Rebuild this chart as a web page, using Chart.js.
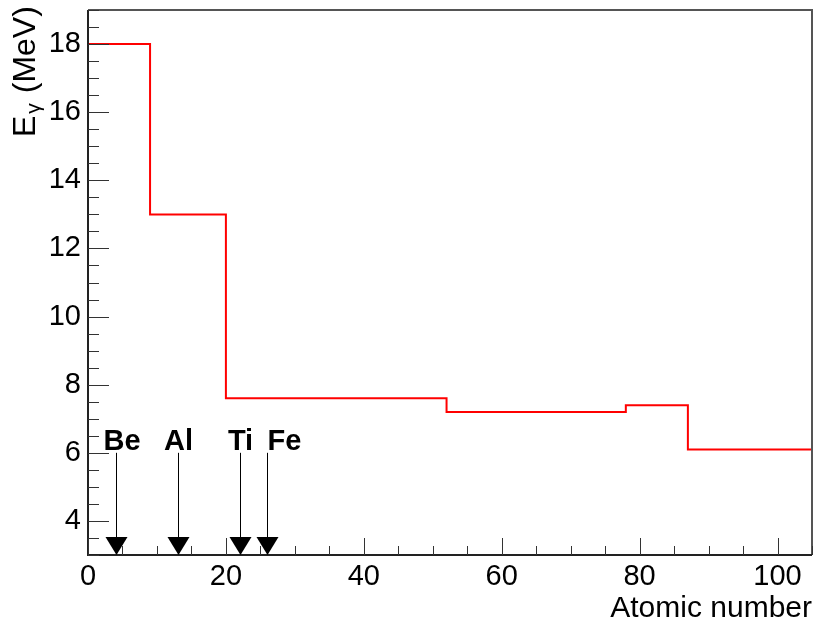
<!DOCTYPE html>
<html>
<head>
<meta charset="utf-8">
<script src="https://cdn.jsdelivr.net/npm/chart.js@4/dist/chart.umd.min.js"></script>
<style>
  html, body { margin: 0; padding: 0; background: #fff; }
  canvas { display: block; }
</style>
</head>
<body>
<canvas id="chart" width="814" height="627"></canvas>
<script>
// Bin edges (atomic number) and photon energy per bin
const binEdges = [0, 9, 20, 52, 78, 87, 105];
const energies = [18, 13, 7.6, 7.2, 7.4, 6.1];

// Target materials marked with arrows
const elements = ['Be', 'Al', 'Ti', 'Fe'];
const elementZ = [4, 13, 22, 26];
const arrowTop = 6;

// Tick labels
const xTicks = [0, 20, 40, 60, 80, 100];
const yTicks = [4, 6, 8, 10, 12, 14, 16, 18];

const FONT = '"Liberation Sans", Arial, Helvetica, sans-serif';

// Build stepped points: every bin start plus the last edge
const points = binEdges.map(function(x, i) {
    return { x: x, y: energies[Math.min(i, energies.length - 1)] };
});

// Draw ROOT-like frame, inner ticks, y title and element arrows
const rootStyle = {
    id: 'rootStyle',
    afterDatasetsDraw: function(chart) {
        const ctx = chart.ctx;
        const xs = chart.scales.x;
        const ys = chart.scales.y;
        const a = chart.chartArea;
        ctx.save();

        // frame
        ctx.strokeStyle = '#555';
        ctx.lineWidth = 2;
        ctx.beginPath();
        ctx.moveTo(a.left, a.top);
        ctx.lineTo(a.right, a.top);
        ctx.lineTo(a.right, a.bottom);
        ctx.stroke();
        ctx.strokeStyle = '#222';
        ctx.beginPath();
        ctx.moveTo(a.left, a.top);
        ctx.lineTo(a.left, a.bottom);
        ctx.lineTo(a.right, a.bottom);
        ctx.stroke();

        // y ticks every 0.5, major every 2
        ctx.lineWidth = 1;
        ctx.strokeStyle = '#333';
        for (let v = 3; v <= 19.001; v += 0.5) {
            const py = Math.round(ys.getPixelForValue(v)) + 0.5;
            const len = (Math.abs(v % 2) < 1e-6) ? 21 : 11;
            ctx.beginPath();
            ctx.moveTo(a.left, py);
            ctx.lineTo(a.left + len, py);
            ctx.stroke();
        }
        // x ticks every 5, major every 20
        for (let v = 0; v <= 105; v += 5) {
            const px = Math.round(xs.getPixelForValue(v)) + 0.5;
            const len = (v % 20 === 0) ? 17 : 9;
            ctx.beginPath();
            ctx.moveTo(px, a.bottom);
            ctx.lineTo(px, a.bottom - len);
            ctx.stroke();
        }

        // element arrows
        const yTop = ys.getPixelForValue(arrowTop);
        const yBot = ys.getPixelForValue(3);
        ctx.fillStyle = '#000';
        ctx.strokeStyle = '#000';
        ctx.font = 'bold 29px ' + FONT;
        ctx.textBaseline = 'alphabetic';
        elements.forEach(function(name, i) {
            const px = Math.round(xs.getPixelForValue(elementZ[i])) + 0.5;
            ctx.beginPath();
            ctx.moveTo(px, yTop);
            ctx.lineTo(px, yBot - 17);
            ctx.stroke();
            ctx.beginPath();
            ctx.moveTo(px - 11, yBot - 18);
            ctx.lineTo(px + 11, yBot - 18);
            ctx.lineTo(px, yBot);
            ctx.closePath();
            ctx.fill();
            if (name === 'Fe') {
                ctx.textAlign = 'left';
                ctx.fillText(name, px, yTop - 3);
            } else if (name === 'Be') {
                ctx.textAlign = 'left';
                ctx.fillText(name, px - 13, yTop - 3);
            } else {
                ctx.textAlign = 'center';
                ctx.fillText(name, px, yTop - 3);
            }
        });

        // y axis title: E_gamma (MeV)
        ctx.translate(35, 137);
        ctx.rotate(-Math.PI / 2);
        ctx.textAlign = 'left';
        ctx.font = '32px ' + FONT;
        ctx.fillText('E', 0, 0);
        let off = ctx.measureText('E').width;
        ctx.font = '21px ' + FONT;
        ctx.fillText('\u03B3', off + 2, 5);
        off += ctx.measureText('\u03B3').width + 3;
        ctx.font = '32px ' + FONT;
        ctx.fillText(' (MeV)', off, 0);

        ctx.restore();
    }
};

const ctx = document.getElementById('chart').getContext('2d');
new Chart(ctx, {
    type: 'line',
    data: {
        datasets: [{
            data: points,
            stepped: 'before',
            borderColor: '#ff0000',
            borderWidth: 2,
            pointRadius: 0,
            fill: false
        }]
    },
    options: {
        responsive: false,
        devicePixelRatio: 1,
        animation: false,
        layout: { padding: { top: 10, right: 2, left: 0, bottom: 0 } },
        plugins: {
            legend: { display: false },
            tooltip: { enabled: false }
        },
        scales: {
            x: {
                type: 'linear',
                min: 0,
                max: 105,
                afterBuildTicks: function(scale) {
                    scale.ticks = xTicks.map(v => ({ value: v }));
                },
                afterFit: function(scale) {
                    scale.height = 72;
                    scale.paddingLeft = 0;
                    scale.paddingRight = 0;
                },
                grid: { display: false, drawTicks: false },
                border: { display: false },
                ticks: {
                    color: '#000',
                    padding: 5,
                    maxRotation: 0,
                    font: { family: FONT, size: 29 }
                },
                title: {
                    display: true,
                    text: 'Atomic number',
                    align: 'end',
                    color: '#000',
                    padding: { top: 0, bottom: 0 },
                    font: { family: FONT, size: 30 }
                }
            },
            y: {
                type: 'linear',
                min: 3,
                max: 19,
                afterBuildTicks: function(scale) {
                    scale.ticks = yTicks.map(v => ({ value: v }));
                },
                afterFit: function(scale) {
                    scale.width = 88;
                    scale.paddingTop = 0;
                    scale.paddingBottom = 0;
                },
                grid: { display: false, drawTicks: false },
                border: { display: false },
                ticks: {
                    color: '#000',
                    padding: 7,
                    font: { family: FONT, size: 29 }
                }
            }
        }
    },
    plugins: [rootStyle]
});
</script>
</body>
</html>
